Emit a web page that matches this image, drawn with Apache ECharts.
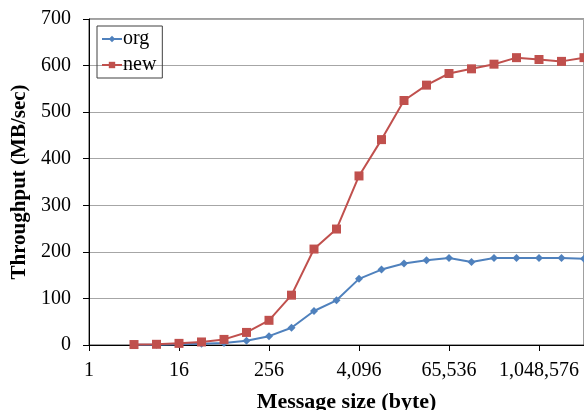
<!DOCTYPE html>
<html><head><meta charset="utf-8">
<script src="https://cdn.jsdelivr.net/npm/echarts@6/dist/echarts.min.js"></script>
<style>html,body{margin:0;padding:0;background:#fff}#c{width:584px;height:410px}</style>
</head><body><div id="c"></div>
<script>
const sizes = [4,8,16,32,64,128,256,512,1024,2048,4096,8192,16384,32768,65536,131072,262144,524288,1048576,2097152,4194304];
const orgValues = [0.3,0.7,1.5,2.5,4.3,9,19,37,73,96,142,162,175,182,187,178,187,187,187,187,185];
const newValues = [1,1.5,3.5,6.5,12,27,53,107,206,249,363,441,525,558,583,593,603,617,613,609,617];
const yTicks = [0,100,200,300,400,500,600,700];
const xTickValues = [1,16,256,4096,65536,1048576];

const font = 'Liberation Serif, Times New Roman, serif';
const chart = echarts.init(document.getElementById('c'));
chart.setOption({
  animation:false,
  backgroundColor:'#fff',
  grid:{left:89,top:19,right:0,bottom:65,containLabel:false,outerBoundsMode:'none',show:true,borderColor:'#404040',borderWidth:1},
  legend:{
    orient:'vertical',left:97,top:26,
    borderColor:'#404040',borderWidth:1,padding:[3,6,3,4],
    itemWidth:20,itemHeight:8,itemGap:6,
    textStyle:{fontFamily:font,fontSize:20,color:'#000',padding:[0,0,0,-4]},
    data:['org','new']
  },
  xAxis:{
    type:'log',logBase:2,min:1,max:4194304,interval:4,
    name:'Message size (byte)',nameLocation:'middle',nameGap:46,
    nameTextStyle:{fontFamily:font,fontSize:22,fontWeight:'bold',color:'#000',padding:[0,0,0,20]},
    axisLine:{lineStyle:{color:'#000',width:1}},
    axisTick:{show:true,inside:false,length:6,lineStyle:{color:'#000'}},
    axisLabel:{fontFamily:font,fontSize:20,color:'#000',margin:16,
      formatter:v=>Math.round(v).toLocaleString('en-US')},
    splitLine:{show:false},minorTick:{show:false}
  },
  yAxis:{
    type:'value',min:yTicks[0],max:yTicks[yTicks.length-1],interval:100,
    name:'Throughput (MB/sec)',nameLocation:'middle',nameGap:56,nameRotate:90,
    nameTextStyle:{fontFamily:font,fontSize:21,fontWeight:'bold',color:'#000'},
    axisLine:{show:true,lineStyle:{color:'#000',width:1}},
    axisTick:{show:true,length:6,lineStyle:{color:'#000'}},
    axisLabel:{fontFamily:font,fontSize:20,color:'#000',margin:18},
    splitLine:{show:true,lineStyle:{color:'#a6a6a6',width:1}}
  },
  series:[
    {name:'org',type:'line',data:sizes.map((s,i)=>[s,orgValues[i]]),
     symbol:'diamond',symbolSize:8,color:'#4F81BD',lineStyle:{width:2},clip:false},
    {name:'new',type:'line',data:sizes.map((s,i)=>[s,newValues[i]]),
     symbol:'rect',symbolSize:9,color:'#C0504D',lineStyle:{width:2},clip:false}
  ]
});
</script></body></html>
